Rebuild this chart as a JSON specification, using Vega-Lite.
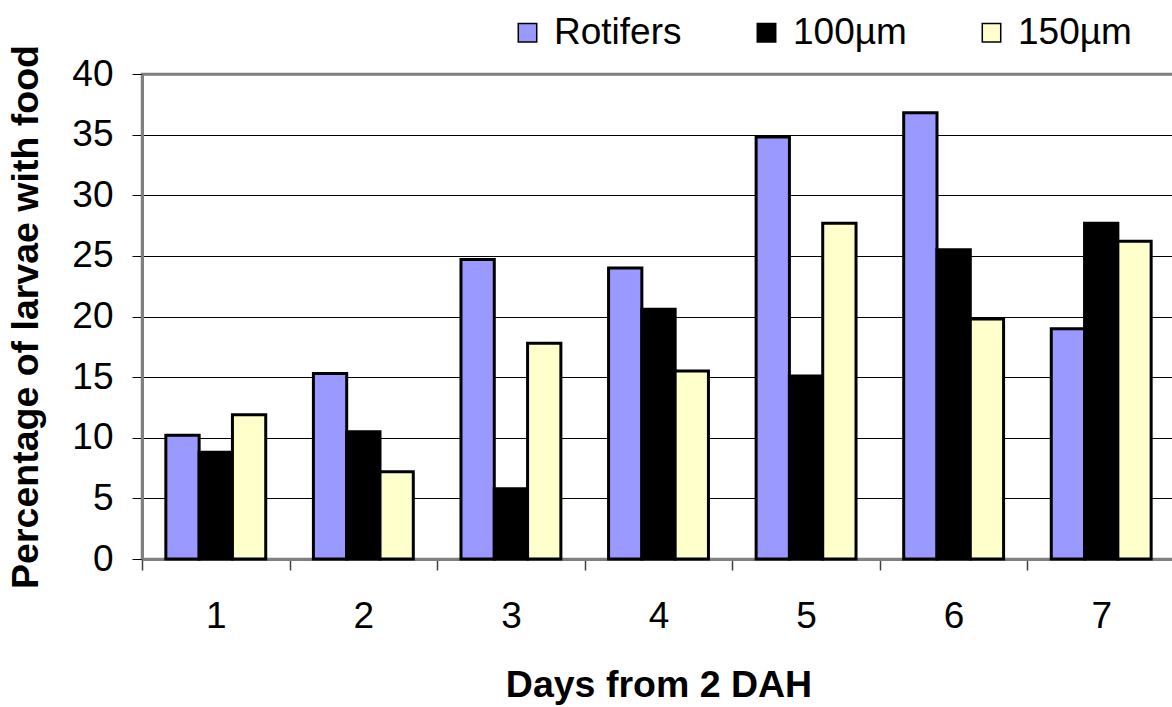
{
  "$schema": "https://vega.github.io/schema/vega-lite/v6.json",
  "width": 1033,
  "height": 485,
  "autosize": "none",
  "padding": {"left": 142, "top": 74, "right": 0, "bottom": 148},
  "config": {
    "font": "Liberation Sans",
    "view": {"stroke": "#808080", "strokeWidth": 2.5},
    "axis": {"labelColor": "black", "titleColor": "black", "labelFont": "Liberation Sans", "titleFont": "Liberation Sans"}
  },
  "data": {
    "values": [
      {"day": "1", "series": "Rotifers", "pct": 10.2},
      {"day": "1", "series": "100µm", "pct": 8.8},
      {"day": "1", "series": "150µm", "pct": 11.9},
      {"day": "2", "series": "Rotifers", "pct": 15.3},
      {"day": "2", "series": "100µm", "pct": 10.5},
      {"day": "2", "series": "150µm", "pct": 7.2},
      {"day": "3", "series": "Rotifers", "pct": 24.7},
      {"day": "3", "series": "100µm", "pct": 5.8},
      {"day": "3", "series": "150µm", "pct": 17.8},
      {"day": "4", "series": "Rotifers", "pct": 24.0},
      {"day": "4", "series": "100µm", "pct": 20.6},
      {"day": "4", "series": "150µm", "pct": 15.5},
      {"day": "5", "series": "Rotifers", "pct": 34.8},
      {"day": "5", "series": "100µm", "pct": 15.1},
      {"day": "5", "series": "150µm", "pct": 27.7},
      {"day": "6", "series": "Rotifers", "pct": 36.8},
      {"day": "6", "series": "100µm", "pct": 25.5},
      {"day": "6", "series": "150µm", "pct": 19.8},
      {"day": "7", "series": "Rotifers", "pct": 19.0},
      {"day": "7", "series": "100µm", "pct": 27.7},
      {"day": "7", "series": "150µm", "pct": 26.2}
    ]
  },
  "mark": {"type": "bar", "stroke": "black", "strokeWidth": 3},
  "encoding": {
    "x": {
      "field": "day",
      "type": "ordinal",
      "scale": {"paddingInner": 0, "paddingOuter": 0},
      "axis": {
        "title": "Days from 2 DAH",
        "labelAngle": 0,
        "tickBand": "extent",
        "grid": false,
        "tickSize": 11,
        "tickColor": "#404040",
        "tickWidth": 1.5,
        "labelPadding": 28,
        "labelFontSize": 37,
        "titleFontSize": 37.5,
        "titleFontWeight": "bold",
        "titlePadding": 32,
        "domainColor": "#808080",
        "domainWidth": 3
      }
    },
    "xOffset": {
      "field": "series",
      "type": "nominal",
      "sort": ["Rotifers", "100µm", "150µm"],
      "scale": {"paddingOuter": 0.716, "paddingInner": 0}
    },
    "y": {
      "field": "pct",
      "type": "quantitative",
      "scale": {"domain": [0, 40], "nice": false},
      "axis": {
        "title": "Percentage of larvae with food",
        "values": [0, 5, 10, 15, 20, 25, 30, 35, 40],
        "tickSize": 10,
        "tickColor": "black",
        "labelPadding": 19,
        "labelFontSize": 37,
        "titleFontSize": 37.5,
        "titleFontWeight": "bold",
        "titlePadding": 26,
        "domainColor": "#808080",
        "domainWidth": 3,
        "gridColor": {"condition": {"test": "datum.value === 40", "value": "#808080"}, "value": "black"},
        "gridWidth": {"condition": {"test": "datum.value === 40", "value": 2.5}, "value": 1},
        "gridOpacity": 1
      }
    },
    "color": {
      "field": "series",
      "type": "nominal",
      "sort": ["Rotifers", "100µm", "150µm"],
      "scale": {"domain": ["Rotifers", "100µm", "150µm"], "range": ["#9999FF", "#000000", "#FFFFCC"]},
      "legend": {
        "title": null,
        "orient": "none",
        "legendX": 367,
        "legendY": -60,
        "direction": "horizontal",
        "symbolType": "square",
        "symbolSize": 340,
        "symbolStrokeColor": "black",
        "symbolStrokeWidth": 1.5,
        "symbolOpacity": 1,
        "labelFontSize": 37,
        "labelColor": "black",
        "labelOffset": 8,
        "labelLimit": 300,
        "columnPadding": 66,
        "padding": 0
      }
    }
  }
}
